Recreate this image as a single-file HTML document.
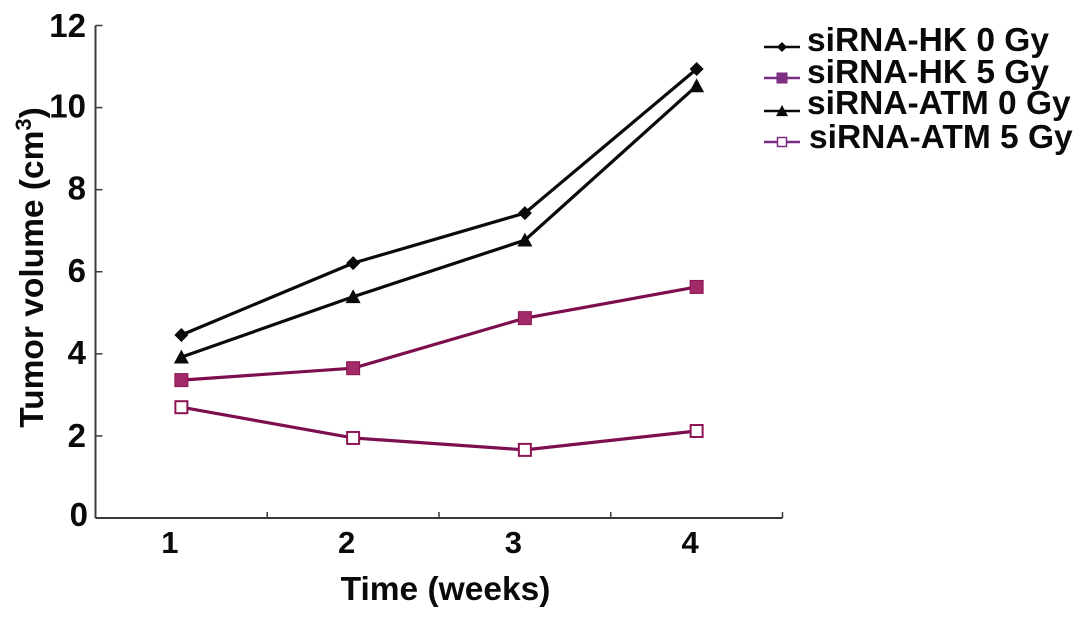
<!DOCTYPE html>
<html lang="en">
<head>
<meta charset="utf-8">
<title>Tumor volume chart</title>
<style>
html,body{margin:0;padding:0;background:#fff;}
svg{display:block;font-family:"Liberation Sans",Arial,sans-serif;font-weight:bold;fill:#0a0a0a;}
</style>
</head>
<body>
<svg id="chart" width="1087" height="619" viewBox="0 0 1087 619" xmlns="http://www.w3.org/2000/svg">
  <text x="445.5" y="600" font-size="33.5" text-anchor="middle">Time (weeks)</text>
  <text transform="translate(43,267.5) rotate(-90)" font-size="33.5" text-anchor="middle">Tumor volume (cm<tspan font-size="22" dy="-12">3</tspan><tspan dy="12">)</tspan></text>
</svg>
<script>
const categories = [1, 2, 3, 4];
const yTicks = [0, 2, 4, 6, 8, 10, 12];
const seriesNames = ['siRNA-HK 0 Gy', 'siRNA-HK 5 Gy', 'siRNA-ATM 0 Gy', 'siRNA-ATM 5 Gy'];
const hk0 = [4.46, 6.21, 7.43, 10.94];
const hk5 = [3.36, 3.65, 4.87, 5.63];
const atm0 = [3.92, 5.39, 6.77, 10.53];
const atm5 = [2.70, 1.95, 1.66, 2.12];

const NS = 'http://www.w3.org/2000/svg';
const svg = document.getElementById('chart');
const X0 = 95.5, BAND = 171.75, Y0 = 518, UNIT = 41.04;
const xScale = i => X0 + BAND * (i + 0.5);
const yScale = v => Y0 - UNIT * v;
const labelNudge = i => (i % 2 === 0 ? -11.5 : -6.5);
const yLabelNudge = v => (v === 0 ? 8 : (v === 2 ? 11 : (v === 12 ? 11.5 : 10)));

function make(tag, attrs, parent) {
  const el = document.createElementNS(NS, tag);
  for (const k in attrs) el.setAttribute(k, attrs[k]);
  (parent || svg).appendChild(el);
  return el;
}
function marker(kind, cx, cy, r, g, fill, stroke, sw) {
  if (kind === 'diamond') {
    return make('polygon', {points: `${cx},${cy - r} ${cx + r},${cy} ${cx},${cy + r} ${cx - r},${cy}`, fill: fill}, g);
  }
  if (kind === 'triangle') {
    return make('polygon', {points: `${cx},${cy - r} ${cx + r},${cy + r * 0.85} ${cx - r},${cy + r * 0.85}`, fill: fill}, g);
  }
  return make('rect', {x: cx - r, y: cy - r, width: 2 * r, height: 2 * r, fill: fill, stroke: stroke, 'stroke-width': sw}, g);
}

// axes
const axisColor = '#3a3a3a';
const yAxis = make('line', {x1: X0, x2: X0, y1: yScale(12), y2: Y0, stroke: axisColor, 'stroke-width': 2});


const xAxis = make('line', {x1: X0, x2: X0 + BAND * categories.length, y1: Y0, y2: Y0, stroke: axisColor, 'stroke-width': 2});



yTicks.forEach(v => {
  const y = yScale(v);
  if (v > 0) {
    const t = make('line', {x1: X0, x2: X0 + 7, y1: y, y2: y, stroke: axisColor, 'stroke-width': 1.5});
    
    
  }
  const l = make('text', {x: v === 0 ? 88 : 86, y: y + yLabelNudge(v), 'font-size': 33, 'text-anchor': 'end'});
  
  
  l.textContent = v;
});
categories.forEach((c, i) => {
  const tx = X0 + BAND * (i + 1);
  const t = make('line', {x1: tx, x2: tx, y1: Y0 - 6, y2: Y0, stroke: axisColor, 'stroke-width': 1.5});
  
  
  const l = make('text', {x: xScale(i) + labelNudge(i), y: 553, 'font-size': 31, 'text-anchor': 'middle'});
  
  
  l.textContent = c;
});

// series
const styles = [
  {values: hk0, line: '#0a0a0a', kind: 'diamond', fill: '#0a0a0a', stroke: 'none', sw: 0, r: 7},
  {values: hk5, line: '#7d0f50', kind: 'square', fill: '#a32a68', stroke: '#8e1553', sw: 1, r: 6.5},
  {values: atm0, line: '#0a0a0a', kind: 'triangle', fill: '#0a0a0a', stroke: 'none', sw: 0, r: 7.5},
  {values: atm5, line: '#7d0f50', kind: 'square', fill: '#ffffff', stroke: '#8e1553', sw: 2, r: 6}
];
styles.forEach((s, k) => {
  const g = make('g', {});
  
  
  make('polyline', {
    points: s.values.map((v, i) => xScale(i) + ',' + yScale(v)).join(' '),
    fill: 'none', stroke: s.line, 'stroke-width': 3.2
  }, g);
  s.values.forEach((v, i) => {
    const m = marker(s.kind, xScale(i), yScale(v), s.r, g, s.fill, s.stroke, s.sw);
    
    
  });
});

// legend
const legendLineY = [47, 78, 111, 142];
const legendTextY = [51, 83, 114, 148];
const legendTextX = [807, 807, 807, 809];
const legendStyles = [
  {line: '#0a0a0a', kind: 'diamond', fill: '#0a0a0a', stroke: 'none', sw: 0, r: 5},
  {line: '#7a2a80', kind: 'square', fill: '#7f2f85', stroke: '#7a2a80', sw: 1, r: 5},
  {line: '#0a0a0a', kind: 'triangle', fill: '#0a0a0a', stroke: 'none', sw: 0, r: 6},
  {line: '#7a2a80', kind: 'square', fill: '#ffffff', stroke: '#7a2a80', sw: 1.5, r: 4.5}
];
seriesNames.forEach((name, k) => {
  const g = make('g', {});
  
  
  const s = legendStyles[k];
  make('line', {x1: 764, x2: 800, y1: legendLineY[k], y2: legendLineY[k], stroke: s.line, 'stroke-width': 2.5}, g);
  marker(s.kind, 782, legendLineY[k], s.r, g, s.fill, s.stroke, s.sw);
  const t = make('text', {x: legendTextX[k], y: legendTextY[k], 'font-size': 33.5}, g);
  t.textContent = name;
});
</script>
</body>
</html>
